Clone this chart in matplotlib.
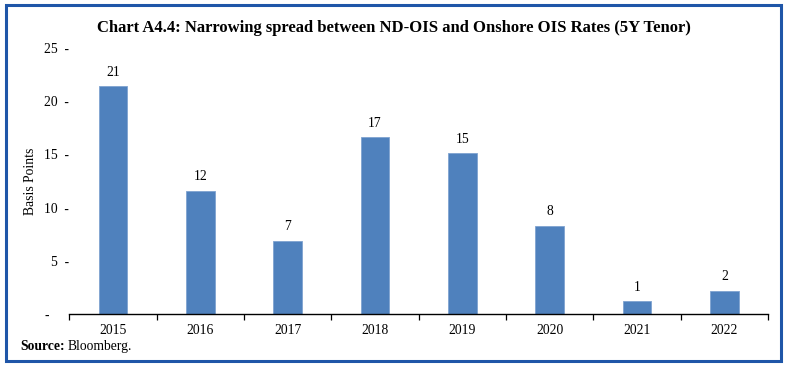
import matplotlib.pyplot as plt
from matplotlib.patches import Rectangle

# data
years = ['2015', '2016', '2017', '2018', '2019', '2020', '2021', '2022']
spread = [21.4, 11.6, 6.9, 16.6, 15.1, 8.3, 1.2, 2.2]
labels = ['21', '12', '7', '17', '15', '8', '1', '2']
yticks = [0, 5, 10, 15, 20, 25]
ytick_labels = ['-      ', '5  -', '10  -', '15  -', '20  -', '25  -']

plt.rcParams['font.family'] = 'Liberation Serif'

fig = plt.figure(figsize=(7.87, 3.69), dpi=100)
ax = fig.add_axes([0.088, 0.149, 0.888, 0.721])

x = range(len(years))
ax.bar(x, spread, width=0.33, color='#4f81bd', edgecolor='#7fa3d0', linewidth=0.6)
for i, v in enumerate(spread):
    ax.text(i, v + 0.7, labels[i], ha='center', va='bottom', fontsize=9.8)

ax.set_xlim(-0.5, len(years) - 0.5)
ax.set_ylim(0, 25)
ax.set_yticks(yticks)
ax.set_yticklabels(ytick_labels, fontsize=9.8)
ax.tick_params(axis='y', length=0, pad=0)

ax.set_xticks(x)
ax.set_xticklabels(years, fontsize=9.8)
ax.tick_params(axis='x', length=0, pad=7)
# category boundary ticks
ax.set_xticks([i - 0.5 for i in range(len(years) + 1)], minor=True)
ax.tick_params(axis='x', which='minor', length=4, width=0.9, direction='out')

for s in ['top', 'right', 'left']:
    ax.spines[s].set_visible(False)
ax.spines['bottom'].set_linewidth(1.0)
ax.set_ylabel('Basis Points', fontsize=9.8, labelpad=5)

fig.text(0.5, 0.925, 'Chart A4.4: Narrowing spread between ND-OIS and Onshore OIS Rates (5Y Tenor)',
         ha='center', va='center', fontsize=12, fontweight='bold')
fig.text(0.026, 0.062, 'Source:', fontsize=9.8, fontweight='bold', va='center')
fig.text(0.086, 0.062, 'Bloomberg.', fontsize=9.8, va='center')

# frame around chart
fig.patches.append(Rectangle((0.008, 0.022), 0.984, 0.964, transform=fig.transFigure,
                             fill=False, edgecolor='#1f56a8', linewidth=2.2))

fig.savefig('out.png', dpi=100)
